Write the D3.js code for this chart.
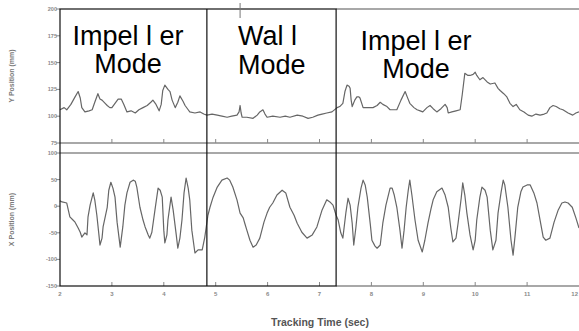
<!DOCTYPE html>
<html>
<head>
<meta charset="utf-8">
<script src="https://cdn.jsdelivr.net/npm/d3@7"></script>
<style>
  html, body { margin: 0; padding: 0; background: #fff; }
  svg { display: block; }
</style>
</head>
<body>
<svg id="chart" width="579" height="331"></svg>
<script>
// Tracking time (s) and Y position (mm), upper panel
const yTrackTime = [2.00,2.08,2.13,2.21,2.29,2.35,2.39,2.42,2.48,2.56,2.62,2.67,2.73,2.77,2.81,2.87,2.91,2.96,3.00,3.06,3.12,3.18,3.23,3.29,3.37,3.45,3.52,3.60,3.68,3.75,3.79,3.85,3.91,3.95,3.98,4.02,4.08,4.12,4.16,4.22,4.27,4.31,4.37,4.41,4.47,4.50,4.60,4.70,4.77,4.83,4.93,5.03,5.12,5.22,5.31,5.41,5.45,5.47,5.49,5.51,5.60,5.72,5.80,5.85,5.91,5.95,5.99,6.10,6.24,6.34,6.43,6.57,6.68,6.78,6.87,6.97,7.05,7.14,7.24,7.34,7.39,7.45,7.49,7.53,7.57,7.59,7.61,7.63,7.68,7.72,7.76,7.78,7.82,7.84,7.93,8.03,8.11,8.17,8.22,8.30,8.36,8.44,8.49,8.57,8.65,8.69,8.74,8.82,8.88,8.94,8.99,9.07,9.13,9.19,9.26,9.34,9.42,9.46,9.48,9.55,9.63,9.71,9.75,9.80,9.86,9.90,9.96,10.00,10.03,10.09,10.15,10.23,10.29,10.38,10.44,10.48,10.55,10.61,10.67,10.73,10.79,10.86,10.94,11.02,11.09,11.17,11.25,11.33,11.38,11.44,11.50,11.56,11.63,11.69,11.79,11.88,11.94,12.00];
const yPosition = [106,108,106,111,118,123,117,108,104,105,106,113,121,116,115,112,110,108,108,112,116,116,111,104,105,103,106,108,110,113,115,111,105,111,124,129,125,123,115,108,113,119,114,110,106,104,103,104,102,101,102,101,100,99,100,101,104,110,103,99,99,98,101,104,106,102,99,100,99,100,99,101,100,98,99,101,102,103,104,108,109,112,123,129,128,126,115,109,115,118,118,117,111,108,108,108,110,113,111,109,106,106,106,115,123,118,112,108,106,105,104,108,110,107,104,107,111,108,103,104,105,106,120,140,138,138,139,141,138,134,136,132,130,131,126,124,121,118,112,109,111,106,104,101,100,102,101,102,103,108,110,109,107,106,103,101,103,104];

// Tracking time (s) and X position (mm), lower panel
const xTrackTime = [2.00,2.04,2.13,2.19,2.25,2.29,2.35,2.39,2.42,2.48,2.52,2.54,2.58,2.64,2.67,2.71,2.75,2.77,2.81,2.83,2.91,2.94,2.98,3.02,3.06,3.10,3.16,3.21,3.25,3.29,3.35,3.41,3.45,3.48,3.54,3.60,3.64,3.70,3.73,3.77,3.83,3.89,3.93,3.97,4.00,4.02,4.06,4.08,4.14,4.18,4.24,4.27,4.31,4.35,4.39,4.43,4.47,4.50,4.54,4.60,4.66,4.74,4.79,4.85,4.89,4.95,5.03,5.12,5.22,5.27,5.33,5.41,5.47,5.53,5.56,5.60,5.66,5.72,5.78,5.85,5.93,5.99,6.04,6.10,6.18,6.28,6.35,6.43,6.51,6.57,6.66,6.76,6.86,6.95,7.05,7.14,7.20,7.26,7.32,7.36,7.41,7.45,7.51,7.55,7.59,7.63,7.66,7.70,7.74,7.80,7.84,7.88,7.92,7.98,8.01,8.07,8.11,8.17,8.22,8.28,8.36,8.40,8.44,8.49,8.55,8.59,8.63,8.67,8.71,8.74,8.78,8.84,8.90,8.98,9.03,9.09,9.15,9.19,9.26,9.36,9.42,9.48,9.53,9.57,9.63,9.67,9.73,9.76,9.80,9.84,9.90,9.96,10.00,10.03,10.09,10.13,10.19,10.23,10.29,10.34,10.40,10.44,10.50,10.54,10.57,10.63,10.69,10.73,10.77,10.82,10.88,10.92,11.00,11.06,11.13,11.19,11.25,11.31,11.36,11.44,11.52,11.60,11.67,11.73,11.79,11.87,11.94,12.00];
const xPosition = [10,8,6,-20,-26,-30,-41,-49,-58,-50,-54,-20,2,25,12,-17,-54,-73,-60,-39,-2,30,45,34,17,-30,-77,-39,2,25,45,49,47,36,-2,-26,-39,-54,-60,-49,-7,34,30,17,-45,-69,-54,-26,17,-7,-54,-79,-60,-26,25,53,34,12,-45,-88,-82,-82,-58,-17,-2,17,36,49,53,49,36,12,-13,-22,-32,-45,-64,-77,-73,-60,-30,-13,-2,6,21,30,25,-2,-17,-32,-49,-60,-54,-39,-7,12,8,2,-17,-26,-50,-60,-11,15,2,-32,-73,-41,-2,34,49,40,17,-35,-64,-75,-79,-73,-32,2,34,34,21,-2,-45,-79,-45,-2,30,49,21,-26,-64,-86,-64,-32,-4,12,27,34,21,-2,-41,-67,-60,-32,15,44,21,-13,-54,-82,-64,-26,17,36,30,17,-45,-82,-64,-13,27,49,40,-2,-64,-92,-54,-2,27,36,40,40,25,6,-26,-58,-64,-60,-30,-7,6,8,6,-2,-22,-41];

const timeTicks = [2,3,4,5,6,7,8,9,10,11,12];
const yPosTicks = [200,175,150,125,100,75];
const xPosTicks = [100,50,0,-50,-100,-150];

// Mode segments: start time, end time, label lines
const modeStart = [2, 4.83, 7.32];
const modeEnd = [4.83, 7.32, 12];
const modeLabels = [["Impel l er", "Mode"], ["Wal l", "Mode"], ["Impel l er", "Mode"]];

const svg = d3.select('#chart');
const left = 60, right = 579;

const x = d3.scaleLinear().domain([2, 12]).range([left, right]);
const yTop = d3.scaleLinear().domain([75, 200]).range([143, 9]);
const yBot = d3.scaleLinear().domain([-150, 100]).range([286, 153]);

const gray = '#a8a8a8';
const trace = '#666';

// Panel frames (scanned gray lines)
const frameLines = [
  [yTop.range()[1], modeEnd[1]],
  [yTop.range()[0], 2],
  [yBot.range()[1], 2],
  [yBot.range()[0], modeEnd[1]]
];
svg.append('g')
  .selectAll('line')
  .data(frameLines)
  .join('line')
  .attr('x1', d => x(d[1]))
  .attr('x2', right)
  .attr('y1', d => d[0])
  .attr('y2', d => d[0])
  .attr('stroke', gray)
  .attr('stroke-width', 2);

// Tick marks along panel bottoms
const tickGroup = svg.append('g').attr('stroke', '#888').attr('stroke-width', 1);
[yTop.range()[0], yBot.range()[0]].forEach(yy => {
  tickGroup.selectAll(null)
    .data(timeTicks.slice(1, -1))
    .join('line')
    .attr('x1', d => x(d))
    .attr('x2', d => x(d))
    .attr('y1', yy - 4)
    .attr('y2', yy);
});

// Left axis ticks + labels
const axisLabel = (scale, ticks) => {
  const g = svg.append('g');
  g.selectAll('line')
    .data(ticks)
    .join('line')
    .attr('x1', left - 4)
    .attr('x2', left)
    .attr('y1', d => scale(d))
    .attr('y2', d => scale(d))
    .attr('stroke', '#888');
  g.selectAll('text')
    .data(ticks)
    .join('text')
    .attr('x', left - 3)
    .attr('y', d => scale(d) + 2)
    .attr('text-anchor', 'end')
    .style('font-family', 'Liberation Sans, Arial, sans-serif')
    .style('font-size', '5.5px')
    .style('font-weight', 'bold')
    .style('fill', '#8a8a8a')
    .text(d => d);
};
axisLabel(yTop, yPosTicks);
axisLabel(yBot, xPosTicks);

// X tick labels (last one kept inside the page)
svg.append('g')
  .selectAll('text')
  .data(timeTicks)
  .join('text')
  .attr('x', d => d === 12 ? x(d) - 1 : x(d))
  .attr('y', 296)
  .attr('text-anchor', d => d === 12 ? 'end' : 'middle')
  .style('font-family', 'Liberation Sans, Arial, sans-serif')
  .style('font-size', '6px')
  .style('font-weight', 'bold')
  .style('fill', '#8a8a8a')
  .text(d => d);

// Traces
const topLine = d3.line().x(d => x(d[0])).y(d => yTop(d[1]));
const botLine = d3.line().x(d => x(d[0])).y(d => yBot(d[1]));

svg.append('path')
  .datum(d3.zip(yTrackTime, yPosition))
  .attr('d', topLine)
  .attr('fill', 'none')
  .attr('stroke', trace)
  .attr('stroke-width', 1.2)
  .attr('stroke-linejoin', 'round');

svg.append('path')
  .datum(d3.zip(xTrackTime, xPosition))
  .attr('d', botLine)
  .attr('fill', 'none')
  .attr('stroke', trace)
  .attr('stroke-width', 1.2)
  .attr('stroke-linejoin', 'round');

// Mode box (black) and left axis
const boxTop = yTop.range()[1], boxBottom = yBot.range()[0];
svg.append('rect')
  .attr('x', x(modeStart[0]))
  .attr('y', boxTop)
  .attr('width', x(modeEnd[1]) - x(modeStart[0]))
  .attr('height', boxBottom - boxTop)
  .attr('fill', 'none')
  .attr('stroke', '#111')
  .attr('stroke-width', 1.2);

svg.append('line')
  .attr('x1', x(modeStart[1])).attr('x2', x(modeStart[1]))
  .attr('y1', boxTop).attr('y2', boxBottom)
  .attr('stroke', '#111').attr('stroke-width', 1.2);

// stray tick above the frame
svg.append('line')
  .attr('x1', x(5.47)).attr('x2', x(5.47))
  .attr('y1', 3).attr('y2', 18)
  .attr('stroke', '#777').attr('stroke-width', 1);

// Mode annotations
const labelPos = [
  { x: 128, y: 45, anchor: 'middle', dy: 28 },
  { x: 238, y: 45, anchor: 'start', dy: 29 },
  { x: 416, y: 50, anchor: 'middle', dy: 28 }
];
modeLabels.forEach((lines, i) => {
  const p = labelPos[i];
  svg.append('text')
    .attr('x', p.x)
    .attr('y', p.y)
    .attr('text-anchor', p.anchor)
    .style('font-family', 'Liberation Sans, Arial, sans-serif')
    .style('font-size', '27px')
    .style('fill', '#000')
    .selectAll('tspan')
    .data(lines)
    .join('tspan')
    .attr('x', p.x)
    .attr('dy', (d, j) => j === 0 ? 0 : p.dy)
    .text(d => d);
});

// Axis titles
const titleStyle = sel => sel
  .style('font-family', 'Liberation Sans, Arial, sans-serif')
  .style('font-weight', 'bold')
  .style('fill', '#7a7a7a');

svg.append('text')
  .attr('transform', `translate(14, ${(yTop.range()[0] + yTop.range()[1]) / 2}) rotate(-90)`)
  .attr('text-anchor', 'middle')
  .style('font-size', '7px')
  .call(titleStyle)
  .text('Y Position (mm)');

svg.append('text')
  .attr('transform', `translate(14, ${(yBot.range()[0] + yBot.range()[1]) / 2}) rotate(-90)`)
  .attr('text-anchor', 'middle')
  .style('font-size', '7px')
  .call(titleStyle)
  .text('X Position (mm)');

svg.append('text')
  .attr('x', 320)
  .attr('y', 326)
  .attr('text-anchor', 'middle')
  .style('font-size', '10.5px')
  .call(titleStyle)
  .style('fill', '#555')
  .text('Tracking Time (sec)');
</script>
</body>
</html>
